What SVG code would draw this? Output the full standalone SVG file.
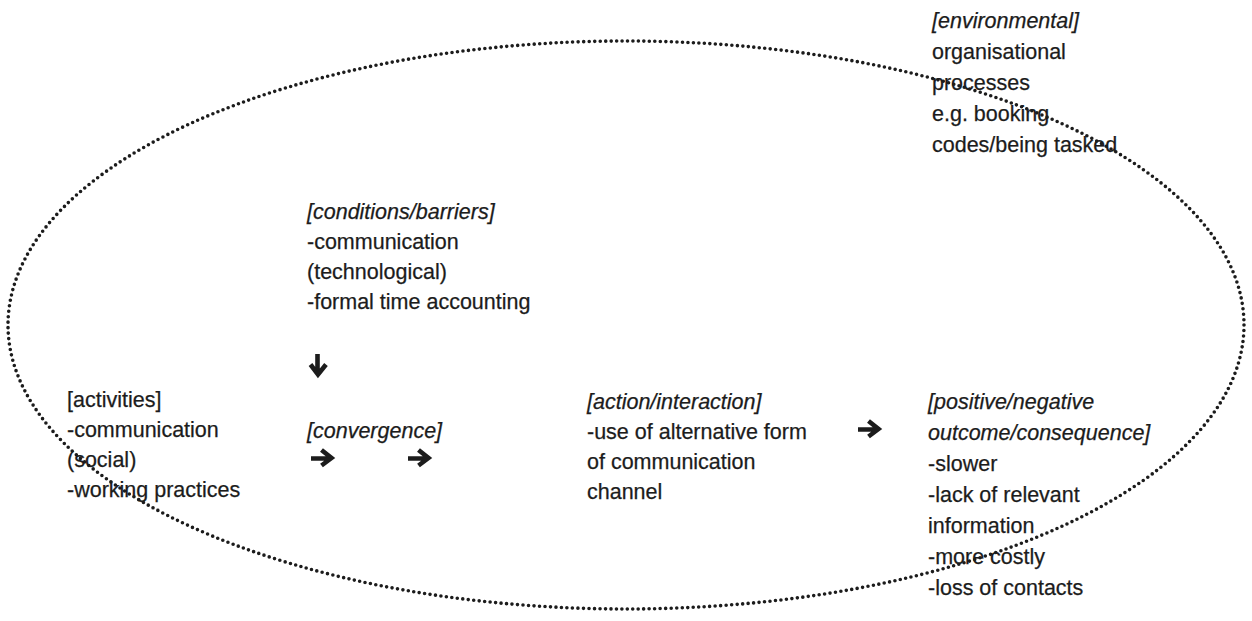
<svg xmlns="http://www.w3.org/2000/svg" width="1252" height="621" viewBox="0 0 1252 621">
<style>
  text { font-family: "Liberation Sans", Arial, sans-serif; font-size: 21.5px; fill: #1c1c1c; stroke: #1c1c1c; stroke-width: 0.25; }
  .i { font-style: italic; }
  .dots { fill: none; stroke: #1c1c1c; stroke-width: 3.6; stroke-linecap: round; stroke-dasharray: 0 5.5; }
  .arr { fill: none; stroke: #1c1c1c; stroke-width: 4.6; stroke-linecap: butt; stroke-linejoin: miter; }
</style>
<defs>
  <g id="arrowR">
    <path class="arr" d="M-12,1.5 L6,1.5 M-1.5,-7 L8.5,1 L-1.5,8.5"/>
  </g>
</defs>
<rect width="1252" height="621" fill="#ffffff"/>
<g id="boundary">
  <ellipse class="dots" cx="626" cy="325" rx="618" ry="284"/>
</g>
<g id="environmental">
  <text x="932" y="28" class="i">[environmental]</text>
  <text x="932" y="59">organisational</text>
  <text x="932" y="90">processes</text>
  <text x="932" y="121">e.g. booking</text>
  <text x="932" y="152">codes/being tasked</text>
</g>
<g id="conditions">
  <text x="307" y="219" class="i">[conditions/barriers]</text>
  <text x="307" y="249">-communication</text>
  <text x="307" y="279">(technological)</text>
  <text x="307" y="309">-formal time accounting</text>
</g>
<g id="activities">
  <text x="67" y="407">[activities]</text>
  <text x="67" y="437">-communication</text>
  <text x="67" y="467">(social)</text>
  <text x="67" y="497">-working practices</text>
</g>
<g id="convergence">
  <text x="307" y="438" class="i">[convergence]</text>
</g>
<g id="action">
  <text x="587" y="409" class="i">[action/interaction]</text>
  <text x="587" y="439">-use of alternative form</text>
  <text x="587" y="469">of communication</text>
  <text x="587" y="499">channel</text>
</g>
<g id="outcome">
  <text x="928" y="409" class="i">[positive/negative</text>
  <text x="928" y="440" class="i">outcome/consequence]</text>
  <text x="928" y="471">-slower</text>
  <text x="928" y="502">-lack of relevant</text>
  <text x="928" y="533">information</text>
  <text x="928" y="564">-more costly</text>
  <text x="928" y="595">-loss of contacts</text>
</g>
<g id="connectors">
  <use href="#arrowR" transform="translate(319,366) rotate(90)"/>
  <use href="#arrowR" transform="translate(323,457)"/>
  <use href="#arrowR" transform="translate(420,457)"/>
  <use href="#arrowR" transform="translate(870,428)"/>
</g>
</svg>
